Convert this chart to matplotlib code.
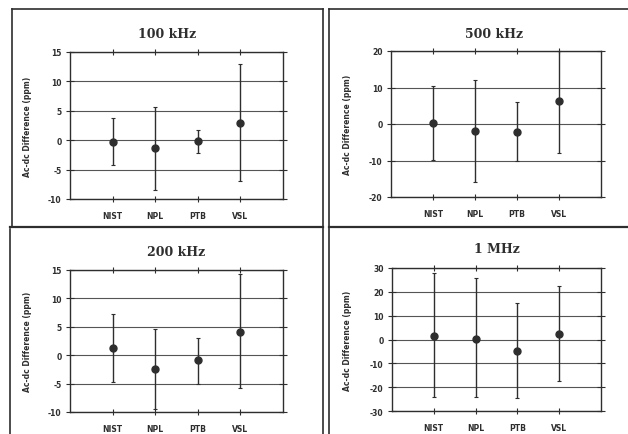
import matplotlib
matplotlib.use('Agg')
from matplotlib import pyplot as plt
from matplotlib.lines import Line2D
import numpy as np

LABS = ['NIST', 'NPL', 'PTB', 'VSL']
YLABEL = 'Ac-dc Difference (ppm)'

# value, upper end, lower end of the bar (ppm)
val_100k = [-0.3, -1.4, -0.2, 2.9]
up_100k = [3.7, 5.7, 1.8, 13.0]
lo_100k = [-4.2, -8.4, -2.2, -7.0]

val_500k = [0.4, -1.9, -2.1, 6.3]
up_500k = [10.4, 12.1, 5.9, 20.0]
lo_500k = [-9.8, -15.8, -10.1, -7.9]

val_200k = [1.2, -2.4, -0.9, 4.1]
up_200k = [7.3, 4.6, 3.0, 14.3]
lo_200k = [-4.7, -9.4, -5.0, -5.7]

val_1m = [1.3, 0.3, -4.9, 2.2]
up_1m = [27.8, 25.7, 15.4, 22.4]
lo_1m = [-24.0, -24.0, -24.5, -17.4]

INK = '#2e2e2e'
GRID = '#555555'
W, H = 628, 435

panels = [
    ('100 kHz', val_100k, up_100k, lo_100k, [-10, -5, 0, 5, 10, 15], (70, 283, 53, 200), (167, 35), 28),
    ('500 kHz', val_500k, up_500k, lo_500k, [-20, -10, 0, 10, 20], (391, 601, 52, 198), (494, 35), 347),
    ('200 kHz', val_200k, up_200k, lo_200k, [-10, -5, 0, 5, 10, 15], (70, 283, 271, 413), (176, 253), 28),
    ('1 MHz', val_1m, up_1m, lo_1m, [-30, -20, -10, 0, 10, 20, 30], (392, 601, 269, 412), (497, 250), 347),
]

fig = plt.figure(figsize=(W / 100, H / 100), dpi=100)
fig.patch.set_facecolor('white')

# frames of the four boxes on the page
def hline(y, x0, x1, lw=1.2):
    fig.add_artist(Line2D([x0 / W, x1 / W], [1 - y / H, 1 - y / H], color=INK, lw=lw))

def vline(x, y0, y1, lw=1.2):
    fig.add_artist(Line2D([x / W, x / W], [1 - y0 / H, 1 - y1 / H], color=INK, lw=lw))

hline(10, 12, 323)
hline(10, 329, 628)
hline(228, 10, 323, lw=1.6)
hline(228, 329, 628, lw=1.6)
vline(12, 10, 228)
vline(10, 230, 435)
vline(323, 10, 435)
vline(329, 10, 435)

x = np.arange(1, 5)
for title, val, up, lo, yt, (l, r, t, b), (tx, ty), ylx in panels:
    ax = fig.add_axes([l / W, 1 - b / H, (r - l) / W, (b - t) / H])
    val = np.array(val)
    err = [val - np.array(lo), np.array(up) - val]
    ax.errorbar(x, val, yerr=err, fmt='o', color=INK, ms=5, elinewidth=1.0,
                capsize=1.5, capthick=0.8, clip_on=False, zorder=3)
    ax.set_xlim(0, 5)
    ax.set_ylim(yt[0], yt[-1])
    ax.set_yticks(yt)
    ax.set_yticklabels([str(v) for v in yt], fontsize=5.5, fontweight='bold', color=INK)
    ax.set_xticks(x)
    ax.set_xticklabels(LABS, fontsize=5.5, fontweight='bold', color=INK)
    for v in yt:
        ax.axhline(v, color=GRID, lw=0.8, zorder=1)
    ax.tick_params(axis='y', direction='inout', length=6, width=0.8, color=INK,
                   left=True, right=True, pad=3)
    ax.tick_params(axis='x', direction='inout', length=5, width=0.8, color=INK,
                   top=True, bottom=True, pad=6)
    for s in ax.spines.values():
        s.set_color(INK)
        s.set_linewidth(1.0)
    fig.text(tx / W, 1 - ty / H, title, ha='center', va='center', fontsize=9,
             fontweight='bold', family='DejaVu Serif', color=INK)
    fig.text(ylx / W, 1 - (t + b) / 2 / H, YLABEL, ha='center', va='center',
             rotation=90, fontsize=5.5, fontweight='bold', color=INK)

fig.savefig('out.png', dpi=100)
